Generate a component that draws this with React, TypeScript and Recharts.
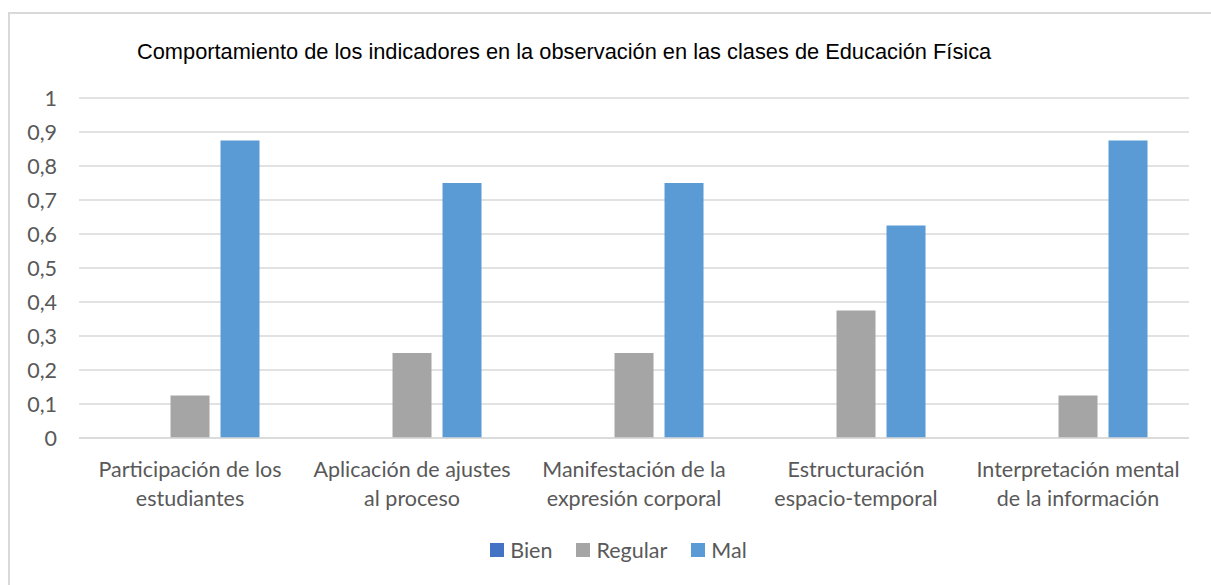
import React from "react";
import { BarChart, Bar, XAxis, YAxis, CartesianGrid, Legend } from "recharts";

const categories = [
  "Participación de los|estudiantes",
  "Aplicación de ajustes|al proceso",
  "Manifestación de la|expresión corporal",
  "Estructuración|espacio-temporal",
  "Interpretación mental|de la información",
];
const bien = [0, 0, 0, 0, 0];
const regular = [0.125, 0.25, 0.25, 0.375, 0.125];
const mal = [0.875, 0.75, 0.75, 0.625, 0.875];
const yTicks = [0, 0.1, 0.2, 0.3, 0.4, 0.5, 0.6, 0.7, 0.8, 0.9, 1];

const seriesInfo = [
  { key: "Bien", color: "#4472C4" },
  { key: "Regular", color: "#A5A5A5" },
  { key: "Mal", color: "#5B9BD5" },
];

const data = categories.map((c, i) => ({
  name: c,
  Bien: bien[i],
  Regular: regular[i],
  Mal: mal[i],
}));

const FONT = "Lato, 'Open Sans', sans-serif";

function CategoryTick(props: any) {
  const { x, y, payload } = props;
  const lines = String(payload.value).split("|");
  return (
    <text x={x} y={y} textAnchor="middle" fill="#595959" fontSize={21.5} fontFamily={FONT}>
      {lines.map((l, i) => (
        <tspan key={i} x={x} dy={i === 0 ? 31 : 29}>
          {l}
        </tspan>
      ))}
    </text>
  );
}

function LegendContent() {
  return (
    <div
      style={{
        display: "flex",
        justifyContent: "center",
        paddingLeft: 26,
        fontFamily: FONT,
        fontSize: 21.5,
        color: "#595959",
      }}
    >
      {seriesInfo.map((s) => (
        <div key={s.key} style={{ display: "flex", alignItems: "center", margin: "0 12px" }}>
          <span style={{ width: 14, height: 14, background: s.color, display: "inline-block", marginRight: 6 }} />
          <span>{s.key}</span>
        </div>
      ))}
    </div>
  );
}

export default function App() {
  return (
    <div style={{ position: "fixed", left: 0, top: 0, width: 1211, height: 585, overflow: "hidden", background: "#fff" }}>
      <div
        style={{
          position: "absolute",
          left: 8,
          top: 12,
          width: 1220,
          height: 620,
          border: "2px solid #d9d9d9",
          boxSizing: "border-box",
        }}
      />
      <div
        style={{
          position: "absolute",
          left: 137,
          top: 39,
          fontFamily: "'Liberation Sans', Arial, sans-serif",
          fontSize: 21.8,
          color: "#000",
          whiteSpace: "nowrap",
        }}
      >
        Comportamiento de los indicadores en la observación en las clases de Educación Física
      </div>
      <div style={{ position: "absolute", left: 0, top: 0 }}>
        <BarChart
          width={1211}
          height={585}
          data={data}
          margin={{ top: 98, right: 22, left: 0, bottom: 48 }}
          barGap={11}
          barCategoryGap="18.7%"
        >
          <CartesianGrid vertical={false} stroke="#d9d9d9" strokeWidth={1.5} />
          <XAxis
            dataKey="name"
            tick={<CategoryTick />}
            tickLine={false}
            axisLine={{ stroke: "#d9d9d9", strokeWidth: 1.5 }}
            interval={0}
            height={73}
          />
          <YAxis
            width={79}
            domain={[0, 1]}
            ticks={yTicks}
            interval={0}
            tickFormatter={(v) => String(v).replace(".", ",")}
            tickLine={false}
            axisLine={false}
            tickMargin={16}
            tick={{ fill: "#595959", fontSize: 21.5, fontFamily: FONT }}
          />
          <Legend
            content={<LegendContent />}
            wrapperStyle={{ position: "absolute", top: 537, left: 0, width: 1211 }}
          />
          {seriesInfo.map((s) => (
            <Bar key={s.key} dataKey={s.key} fill={s.color} isAnimationActive={false} />
          ))}
        </BarChart>
      </div>
    </div>
  );
}
